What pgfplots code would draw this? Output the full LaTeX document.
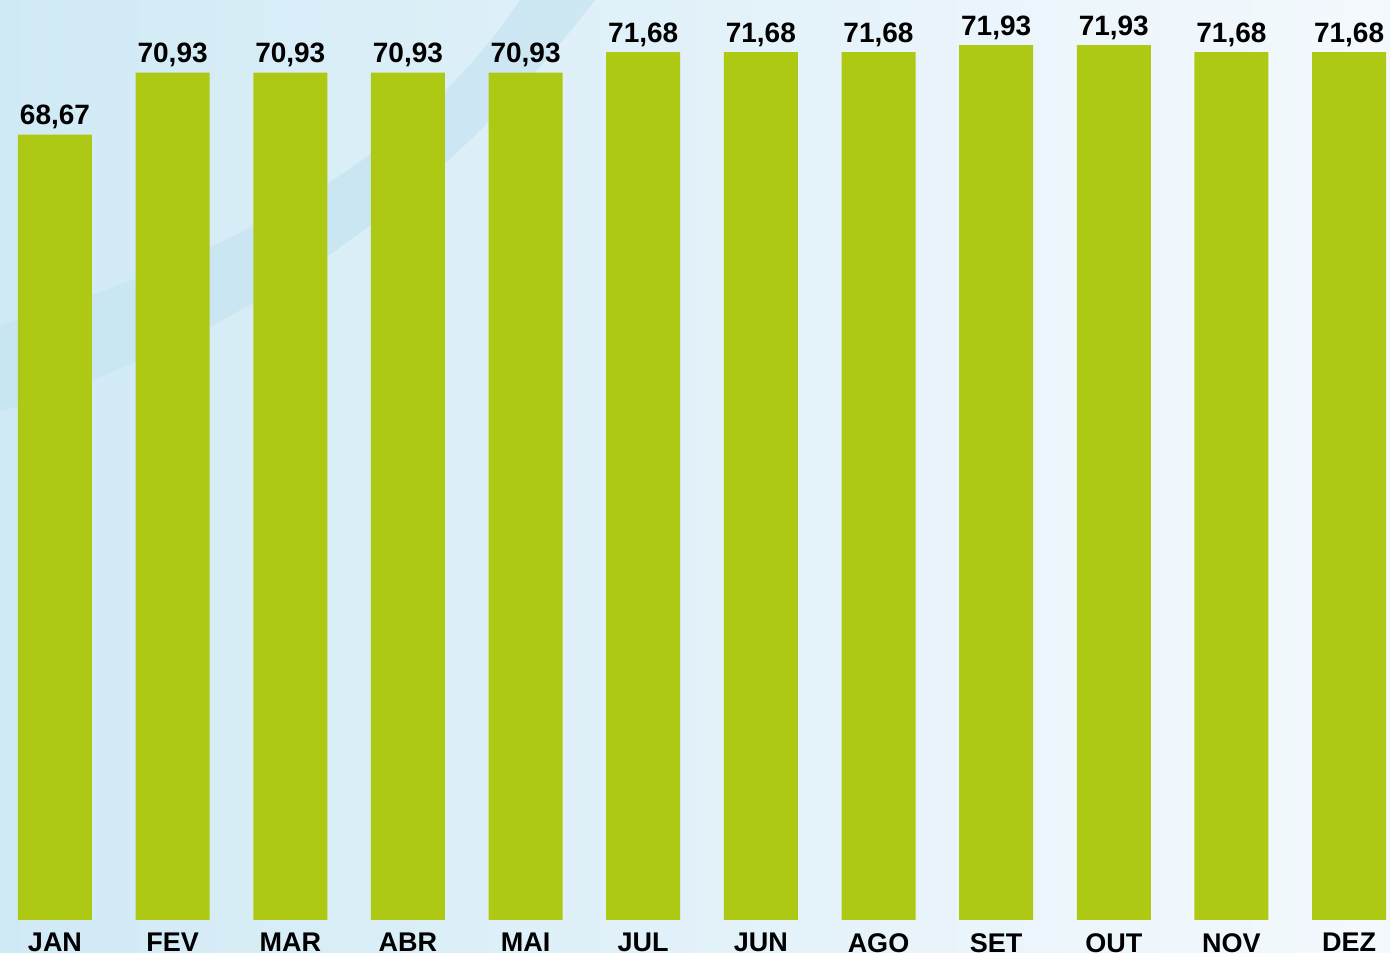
\documentclass[border=0pt]{standalone}
\usepackage{pgfplots}
\pgfplotsset{compat=1.18}
\usepackage{fontspec}
\setmainfont{Liberation Sans}
\definecolor{barcol}{RGB}{173,201,20}
\definecolor{bgL}{RGB}{208,234,245}
\definecolor{bgR}{RGB}{244,249,253}
\definecolor{band}{RGB}{198,228,242}
\begin{document}
\begin{tikzpicture}
\useasboundingbox (0,0) rectangle (695pt,476pt);
\clip (0,0) rectangle (695pt,476pt);
\shade[left color=bgL, right color=bgR] (0,0) rectangle (695pt,476pt);
\begin{scope}[x=0.5pt,y=-0.5pt,shift={(0,476pt)}]
\fill[band, opacity=0.7] (0,325) .. controls (250,250) and (420,150) .. (520,0) -- (595,0) .. controls (480,150) and (300,320) .. (0,412) -- cycle;
\end{scope}
\begin{axis}[
  at={(0,16pt)}, anchor=south west,
  scale only axis, width=695pt, height=460pt,
  xmin=-0.4675, xmax=11.348, ymin=40, ymax=73.58,
  axis line style={draw=none}, major tick length=0pt,
  ytick=\empty,
  xtick={0,...,11},
  xticklabels={JAN,FEV,MAR,ABR,MAI,JUL,JUN,AGO,SET,OUT,NOV,DEZ},
  xticklabel style={font=\bfseries\fontsize{13.5}{13.5}\selectfont, anchor=north, inner sep=0pt, yshift=-6.5pt},
  /pgf/number format/assume math mode=true,
  nodes near coords={\pgfmathprintnumber[fixed,precision=2,fixed zerofill,use comma]{\pgfplotspointmeta}},
  nodes near coords style={font=\bfseries\fontsize{14}{14}\selectfont, anchor=base, inner sep=0pt, yshift=5pt},
  clip=false,
]
\addplot[ybar, bar width=37pt, fill=barcol, draw=none] coordinates {
(0,68.67) (1,70.93) (2,70.93) (3,70.93) (4,70.93) (5,71.68)
(6,71.68) (7,71.68) (8,71.93) (9,71.93) (10,71.68) (11,71.68)
};
\end{axis}
\end{tikzpicture}
\end{document}
